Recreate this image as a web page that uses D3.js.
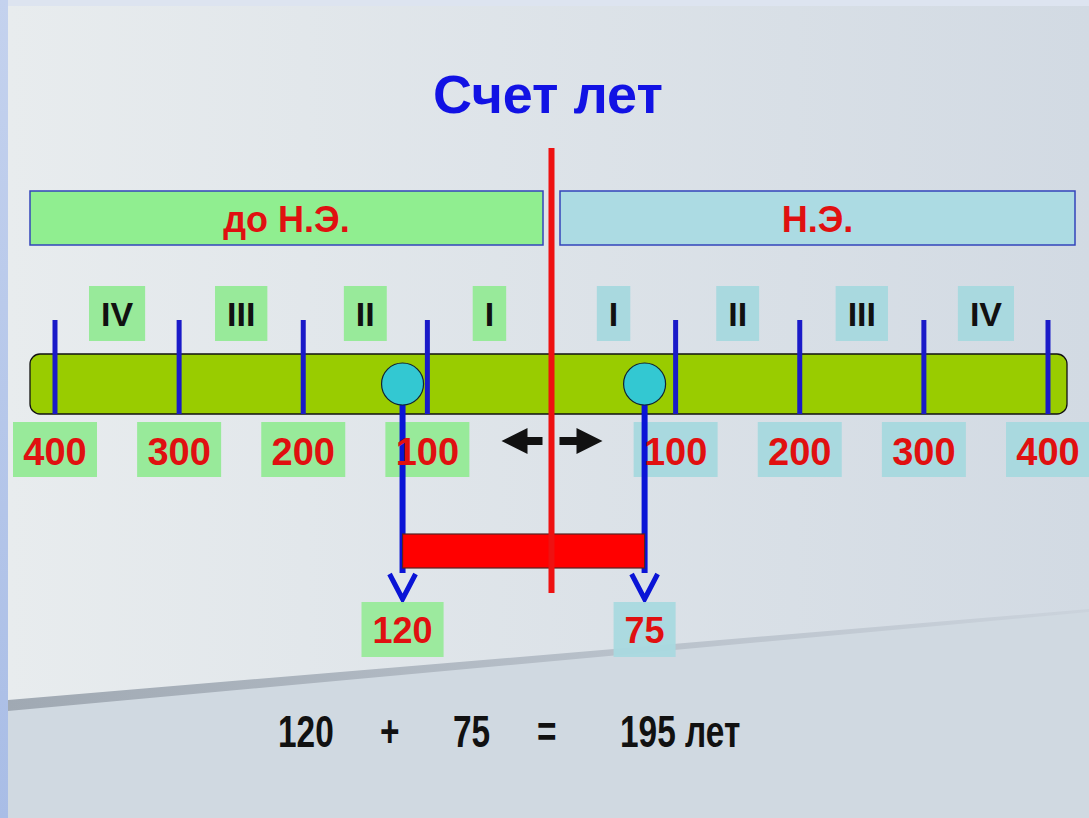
<!DOCTYPE html>
<html><head><meta charset="utf-8">
<script src="https://cdn.jsdelivr.net/npm/d3@7/dist/d3.min.js"></script>
<style>html,body{margin:0;padding:0;overflow:hidden;background:#dde4ef}</style>
</head><body>
<script>
// ---- data ----
const titleText = "Счет лет";
const eraLabels = ["до Н.Э.", "Н.Э."];
const centuryLabels = ["IV", "III", "II", "I", "I", "II", "III", "IV"];
const centuryMids = [-350, -250, -150, -50, 50, 150, 250, 350];
const tickYears = [-400, -300, -200, -100, 100, 200, 300, 400];
const tickLabels = ["400", "300", "200", "100", "100", "200", "300", "400"];
const eventYears = [-120, 75];
const eventLabels = ["120", "75"];
const equationTokens = ["120", "+", "75", "=", "195 лет"];

const W = 1089, H = 818;
const svg = d3.select("body").append("svg").attr("width", W).attr("height", H);
const defs = svg.append("defs");

const g1 = defs.append("linearGradient").attr("id", "panel").attr("x1", 0).attr("x2", 1).attr("y1", 0).attr("y2", 0);
g1.append("stop").attr("offset", 0).attr("stop-color", "#e8ecee");
g1.append("stop").attr("offset", 1).attr("stop-color", "#d2dae3");
const g2 = defs.append("linearGradient").attr("id", "strip").attr("x1", 0).attr("x2", 0).attr("y1", 0).attr("y2", 1);
g2.append("stop").attr("offset", 0).attr("stop-color", "#c4d2ee");
g2.append("stop").attr("offset", 1).attr("stop-color", "#a9bde6");
const g3 = defs.append("linearGradient").attr("id", "shadow").attr("x1", 0).attr("x2", 1).attr("y1", 0).attr("y2", 0);
g3.append("stop").attr("offset", 0).attr("stop-color", "#a0a9b3");
g3.append("stop").attr("offset", 1).attr("stop-color", "#cbd3dc");

// background
svg.append("rect").attr("width", W).attr("height", H).attr("fill", "#dde4f0");
svg.append("rect").attr("x", 8).attr("y", 6).attr("width", W - 8).attr("height", H - 6).attr("fill", "url(#panel)");
svg.append("polygon").attr("points", "8,703 1089,612 1089,818 8,818").attr("fill", "#d0d9e1");
svg.append("polygon").attr("points", "8,700 1089,609 1089,612 8,711").attr("fill", "url(#shadow)");
svg.append("rect").attr("x", 0).attr("y", 0).attr("width", 8).attr("height", H).attr("fill", "url(#strip)");

// scale
const x = d3.scaleLinear().domain([-400, 400]).range([55, 1048]);
const x0 = x(0);
const fontMain = "Liberation Sans, Arial, sans-serif";

// title
svg.append("text").attr("x", 548).attr("y", 113).attr("text-anchor", "middle")
  .attr("font-family", fontMain).attr("font-weight", "bold")
  .attr("font-size", 54).attr("fill", "#1212e4").text(titleText);

// era banners
const eraBoxes = [[30, 543, "#90ee90"], [560, 1075, "#acdbe3"]];
eraLabels.forEach((t, i) => {
  const [a, b, c] = eraBoxes[i];
  svg.append("rect").attr("x", a).attr("y", 191).attr("width", b - a).attr("height", 54)
    .attr("fill", c).attr("stroke", "#3344bb").attr("stroke-width", 1.5);
  svg.append("text").attr("x", (a + b) / 2).attr("y", 232).attr("text-anchor", "middle")
    .attr("font-family", fontMain).attr("font-weight", "bold")
    .attr("font-size", 36).attr("fill", "#e01010").text(t);
});

// century labels
const cg = svg.append("g");
centuryLabels.forEach((t, i) => {
  const cx = x(centuryMids[i]);
  const txt = cg.append("text").attr("x", cx).attr("y", 326).attr("text-anchor", "middle")
    .attr("font-family", fontMain).attr("font-weight", "bold").attr("font-size", 34)
    .attr("fill", "#111").text(t);
  const w = txt.node().getComputedTextLength();
  cg.insert("rect", "text").attr("x", cx - w / 2 - 12).attr("y", 286).attr("width", w + 24).attr("height", 55)
    .attr("fill", centuryMids[i] < 0 ? "#98ea9a" : "#a9d9df");
});

// timeline bar
svg.append("rect").attr("x", 30).attr("y", 354).attr("width", 1037).attr("height", 60).attr("rx", 10)
  .attr("fill", "#99cc00").attr("stroke", "#111").attr("stroke-width", 1.3);

// ticks
svg.selectAll("line.tick").data(tickYears).join("line").attr("class", "tick")
  .attr("x1", d => x(d)).attr("x2", d => x(d)).attr("y1", 320).attr("y2", 414)
  .attr("stroke", "#1a1ac8").attr("stroke-width", 5);

// tick label boxes
svg.selectAll("rect.tlbox").data(tickYears).join("rect").attr("class", "tlbox")
  .attr("x", d => x(d) - 42).attr("y", 422).attr("width", 84).attr("height", 55)
  .attr("fill", d => d < 0 ? "#98ea9a" : "#a9d9df");

// center arrows
svg.append("path").attr("d", `M${x0 - 50},441 L${x0 - 24},428 L${x0 - 24},437 L${x0 - 9},437 L${x0 - 9},445 L${x0 - 24},445 L${x0 - 24},454 Z`).attr("fill", "#111");
svg.append("path").attr("d", `M${x0 + 51},441 L${x0 + 25},428 L${x0 + 25},437 L${x0 + 8},437 L${x0 + 8},445 L${x0 + 25},445 L${x0 + 25},454 Z`).attr("fill", "#111");

// event stems
eventYears.forEach(d => {
  svg.append("line").attr("x1", x(d)).attr("x2", x(d)).attr("y1", 400).attr("y2", 573)
    .attr("stroke", "#0a14d6").attr("stroke-width", 6);
});

// tick label text (on top of stems)
svg.selectAll("text.tl").data(tickYears).join("text").attr("class", "tl")
  .attr("x", d => x(d)).attr("y", 465).attr("text-anchor", "middle")
  .attr("font-family", fontMain).attr("font-weight", "bold").attr("font-size", 38)
  .attr("fill", "#e01010").text((d, i) => tickLabels[i]);

// red span bar
svg.append("rect").attr("x", x(eventYears[0])).attr("y", 534)
  .attr("width", x(eventYears[1]) - x(eventYears[0])).attr("height", 34)
  .attr("fill", "#ff0000").attr("stroke", "#552222").attr("stroke-width", 1.2);

// red vertical zero line
svg.append("line").attr("x1", x0).attr("x2", x0).attr("y1", 148).attr("y2", 593)
  .attr("stroke", "#ee1111").attr("stroke-width", 6);

// event circles, arrowheads, labels
eventYears.forEach((d, i) => {
  const cx = x(d);
  svg.append("circle").attr("cx", cx).attr("cy", 384).attr("r", 21)
    .attr("fill", "#33c8d2").attr("stroke", "#123").attr("stroke-width", 1.2);
  svg.append("polyline").attr("points", `${cx - 13},574 ${cx},599 ${cx + 13},574`)
    .attr("fill", "none").attr("stroke", "#0a14d6").attr("stroke-width", 5);
  const txt = svg.append("text").attr("x", cx).attr("y", 643).attr("text-anchor", "middle")
    .attr("font-family", fontMain).attr("font-weight", "bold").attr("font-size", 36)
    .attr("fill", "#e01010").text(eventLabels[i]);
  const w = txt.node().getComputedTextLength();
  svg.insert("rect", () => txt.node()).attr("x", cx - w / 2 - 11).attr("y", 602)
    .attr("width", w + 22).attr("height", 55)
    .attr("fill", d < 0 ? "#98ea9a" : "#a9d9df").attr("opacity", 0.95);
});

// equation (condensed bold)
const eqX = [278, 380, 453, 537, 620];
equationTokens.forEach((t, i) => {
  svg.append("text").attr("transform", `translate(${eqX[i]},747) scale(0.76,1)`)
    .attr("font-family", fontMain).attr("font-weight", "bold")
    .attr("font-size", 44).attr("fill", "#111").text(t);
});
</script>
</body></html>
